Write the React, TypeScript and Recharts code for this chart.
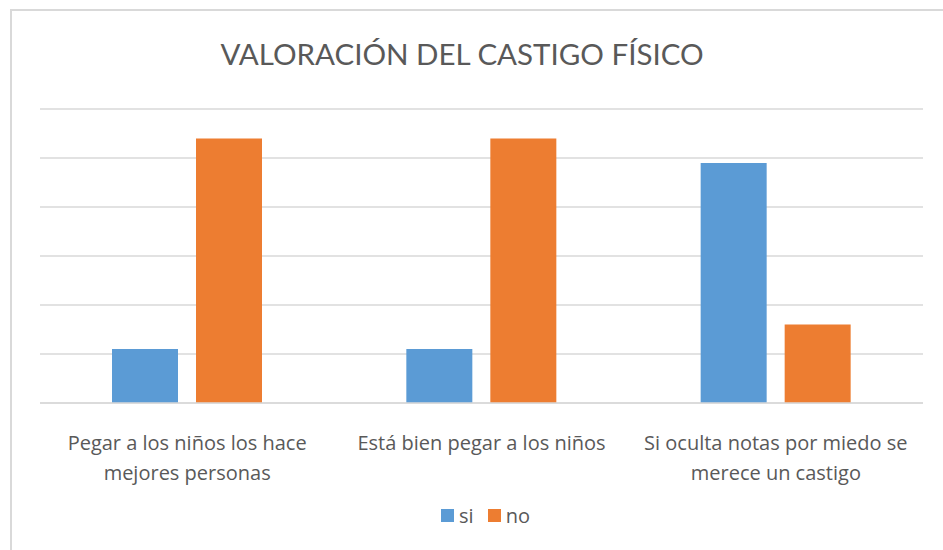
import React from "react";
import {
  BarChart,
  Bar,
  XAxis,
  YAxis,
  CartesianGrid,
  Legend,
} from "recharts";

const categories = [
  "Pegar a los niños los hace mejores personas",
  "Está bien pegar a los niños",
  "Si oculta notas por miedo se merece un castigo",
];
const siValues = [11, 11, 49];
const noValues = [54, 54, 16];
const yTicks = [0, 10, 20, 30, 40, 50, 60];
const seriesOrder = ["si", "no"];

const data = categories.map((name, i) => ({
  name,
  si: siValues[i],
  no: noValues[i],
}));

const LABEL_FONT = "'Open Sans', sans-serif";
const TITLE_FONT = "Lato, 'Open Sans', sans-serif";
const TEXT = "#595959";
const GRID = "#d9d9d9";

function wrap(text: string, max: number) {
  const words = text.split(" ");
  const lines: string[] = [];
  let cur = "";
  for (const w of words) {
    const next = cur ? cur + " " + w : w;
    if (next.length > max && cur) {
      lines.push(cur);
      cur = w;
    } else {
      cur = next;
    }
  }
  if (cur) lines.push(cur);
  return lines;
}

function CategoryTick({ x, y, payload }: any) {
  const lines = wrap(String(payload.value), 28);
  return (
    <text
      x={x}
      y={y}
      textAnchor="middle"
      fill={TEXT}
      style={{ fontFamily: LABEL_FONT, fontSize: 20 }}
    >
      {lines.map((l, i) => (
        <tspan key={i} x={x} y={y + 39 + i * 30}>
          {l}
        </tspan>
      ))}
    </text>
  );
}

function LegendContent({ payload }: any) {
  const items = [...(payload || [])].sort(
    (a: any, b: any) =>
      seriesOrder.indexOf(a.value) - seriesOrder.indexOf(b.value)
  );
  return (
    <div
      style={{
        display: "flex",
        justifyContent: "center",
        alignItems: "center",
        fontFamily: LABEL_FONT,
        fontSize: 20,
        color: TEXT,
        paddingLeft: 28,
      }}
    >
      {items.map((it: any, i: number) => (
        <div
          key={it.value}
          style={{
            display: "flex",
            alignItems: "center",
            marginLeft: i ? 14 : 0,
          }}
        >
          <span
            style={{
              display: "inline-block",
              width: 13,
              height: 13,
              background: it.color,
              marginRight: 5,
            }}
          />
          <span>{it.value}</span>
        </div>
      ))}
    </div>
  );
}

export default function App() {
  return (
    <div
      style={{
        position: "absolute",
        left: 0,
        top: 0,
        width: 943,
        height: 550,
        overflow: "hidden",
        background: "#fff",
      }}
    >
      {/* chart frame, runs off the right and bottom edges */}
      <div
        style={{
          position: "absolute",
          left: 10,
          top: 9,
          width: 960,
          height: 600,
          border: `2px solid ${GRID}`,
        }}
      />
      <svg
        width={943}
        height={80}
        style={{ position: "absolute", left: 0, top: 0 }}
      >
        <text
          x={462}
          y={65}
          textAnchor="middle"
          fill={TEXT}
          style={{ fontFamily: TITLE_FONT, fontSize: 29.5 }}
        >
          VALORACIÓN DEL CASTIGO FÍSICO
        </text>
      </svg>
      <div style={{ position: "absolute", left: 0, top: 0 }}>
        <BarChart
          width={943}
          height={550}
          data={data}
          margin={{ top: 109, right: 20, bottom: 90, left: 40 }}
          barSize={66}
          barGap={18}
        >
          <CartesianGrid vertical={false} stroke={GRID} strokeWidth={1.5} />
          <YAxis hide domain={[0, 60]} ticks={yTicks} />
          <XAxis
            dataKey="name"
            axisLine={{ stroke: GRID, strokeWidth: 1.5 }}
            tickLine={false}
            tick={<CategoryTick />}
            interval={0}
          />
          <Legend
            content={<LegendContent />}
            wrapperStyle={{ top: 502, left: 0, width: 943 }}
          />
          <Bar dataKey="si" fill="#5b9bd5" isAnimationActive={false} />
          <Bar dataKey="no" fill="#ed7d31" isAnimationActive={false} />
        </BarChart>
      </div>
    </div>
  );
}
